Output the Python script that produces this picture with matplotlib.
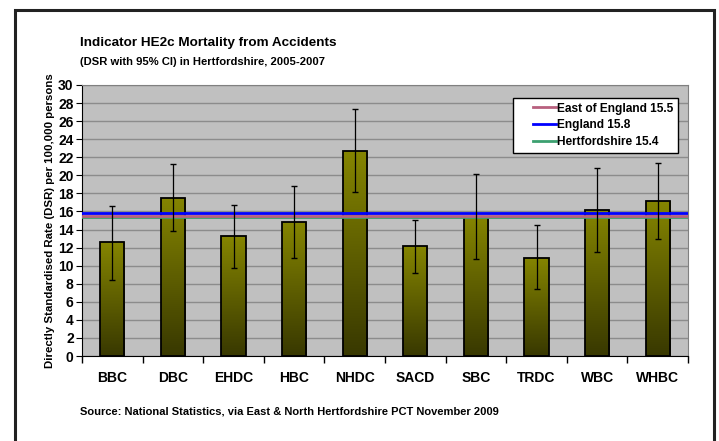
import matplotlib
matplotlib.use("Agg")
import matplotlib.pyplot as plt
import numpy as np
from matplotlib.patches import Rectangle
from matplotlib.lines import Line2D
from matplotlib.legend_handler import HandlerLine2D
from matplotlib.colors import LinearSegmentedColormap

plt.rcParams['font.family'] = ['Liberation Sans', 'DejaVu Sans']
plt.rcParams['font.weight'] = 'bold'

categories = ["BBC", "DBC", "EHDC", "HBC", "NHDC", "SACD", "SBC", "TRDC", "WBC", "WHBC"]
dsr = [12.6, 17.5, 13.25, 14.8, 22.7, 12.15, 15.4, 10.9, 16.2, 17.2]
ci_low = [8.4, 13.8, 9.75, 10.8, 18.2, 9.2, 10.7, 7.4, 11.55, 13.0]
ci_high = [16.6, 21.2, 16.7, 18.8, 27.3, 15.1, 20.1, 14.5, 20.8, 21.4]
ref_labels = ["East of England 15.5", "England 15.8", "Hertfordshire 15.4"]
ref_values = [15.5, 15.8, 15.4]
ref_colors = ["#B8607E", "#0000FF", "#3CA070"]


class OffsetLine(HandlerLine2D):
    def create_artists(self, legend, orig_handle, xdescent, ydescent, width, height,
                       fontsize, trans):
        y = height / 2 - ydescent
        ln = Line2D([-xdescent + width * 0.4, -xdescent + width], [y, y],
                    color=orig_handle.get_color(), linewidth=orig_handle.get_linewidth())
        ln.set_transform(trans)
        return [ln]


fig = plt.figure(figsize=(7.19, 4.41), dpi=100)
fig.patch.set_facecolor("white")

# outer border
fig.add_artist(Rectangle((15/719, -0.05), (714-15)/719, 1.05 - 10/441, transform=fig.transFigure,
                         fill=False, edgecolor="#222222", linewidth=2.2))

ax = fig.add_axes([82/719, (441-356)/441, (688-82)/719, (356-85)/441])
ax.set_facecolor("#C0C0C0")
ax.set_xlim(-0.5, len(categories) - 0.5)
ax.set_ylim(0, 30)
ax.set_yticks(np.arange(0, 31, 2))
ax.grid(axis='y', color="#8C8C8C", linewidth=1.0)
ax.set_axisbelow(True)

x = np.arange(len(categories))
width = 0.4
cmap = LinearSegmentedColormap.from_list("olive", ["#383800", "#858500"])
grad = np.linspace(0, 1, 256).reshape(-1, 1)
for xi, v in zip(x, dsr):
    rect = Rectangle((xi - width/2, 0), width, v, facecolor="none", edgecolor="black",
                     linewidth=1.3, zorder=3)
    ax.add_patch(rect)
    im = ax.imshow(grad, extent=(xi - width/2, xi + width/2, 0, v), origin='lower',
                   cmap=cmap, aspect='auto', zorder=2)
    im.set_clip_path(rect)

ax.axhline(ref_values[2], color=ref_colors[2], linewidth=2, zorder=4)
ax.axhline(ref_values[0], color=ref_colors[0], linewidth=2, zorder=4)
ax.axhline(ref_values[1], color=ref_colors[1], linewidth=2, zorder=4)

yerr = [np.array(dsr) - np.array(ci_low), np.array(ci_high) - np.array(dsr)]
ax.errorbar(x, dsr, yerr=yerr, fmt='none', ecolor='black', elinewidth=0.9,
            capsize=2.5, capthick=1.0, zorder=5)

ax.set_xticks(np.arange(-0.5, len(categories), 1.0))
ax.set_xticklabels([])
ax.set_xticks(x, minor=True)
ax.set_xticklabels(categories, minor=True, fontsize=10, fontweight='bold')
ax.tick_params(axis='x', which='minor', length=0, pad=11)
ax.tick_params(axis='x', which='major', length=5, color="black", width=1)
ax.tick_params(axis='y', length=4, labelsize=10, pad=2)
for lbl in ax.get_yticklabels():
    lbl.set_fontweight('bold')
for sp in ['top', 'right']:
    ax.spines[sp].set_color("#808080")
ax.spines['left'].set_color("black")
ax.spines['bottom'].set_color("black")

ax.set_ylabel("Directly Standardised Rate (DSR) per 100,000 persons", fontsize=8.2,
              fontweight='bold', labelpad=2)

handles = [Line2D([0], [0], color=c, linewidth=2) for c in ref_colors]
leg = ax.legend(handles, ref_labels, loc='upper right', bbox_to_anchor=(0.993, 0.975),
                fontsize=8.6, frameon=True, fancybox=False, edgecolor='black',
                handlelength=3.2, handletextpad=0.1, borderpad=0.4, labelspacing=0.4,
                framealpha=1, handler_map={Line2D: OffsetLine()})
leg.get_frame().set_linewidth(1.0)
for t in leg.get_texts():
    t.set_fontweight('bold')

fig.text(80/719, 1 - 43/441, "Indicator HE2c Mortality from Accidents", fontsize=9.7,
         fontweight='bold', va='center', ha='left')
fig.text(80/719, 1 - 62/441, "(DSR with 95% CI) in Hertfordshire, 2005-2007", fontsize=8.1,
         fontweight='bold', va='center', ha='left')
fig.text(80/719, 1 - 412/441, "Source: National Statistics, via East & North Hertfordshire PCT November 2009",
         fontsize=8.0, fontweight='bold', va='center', ha='left')

fig.savefig("out.png", dpi=100)
